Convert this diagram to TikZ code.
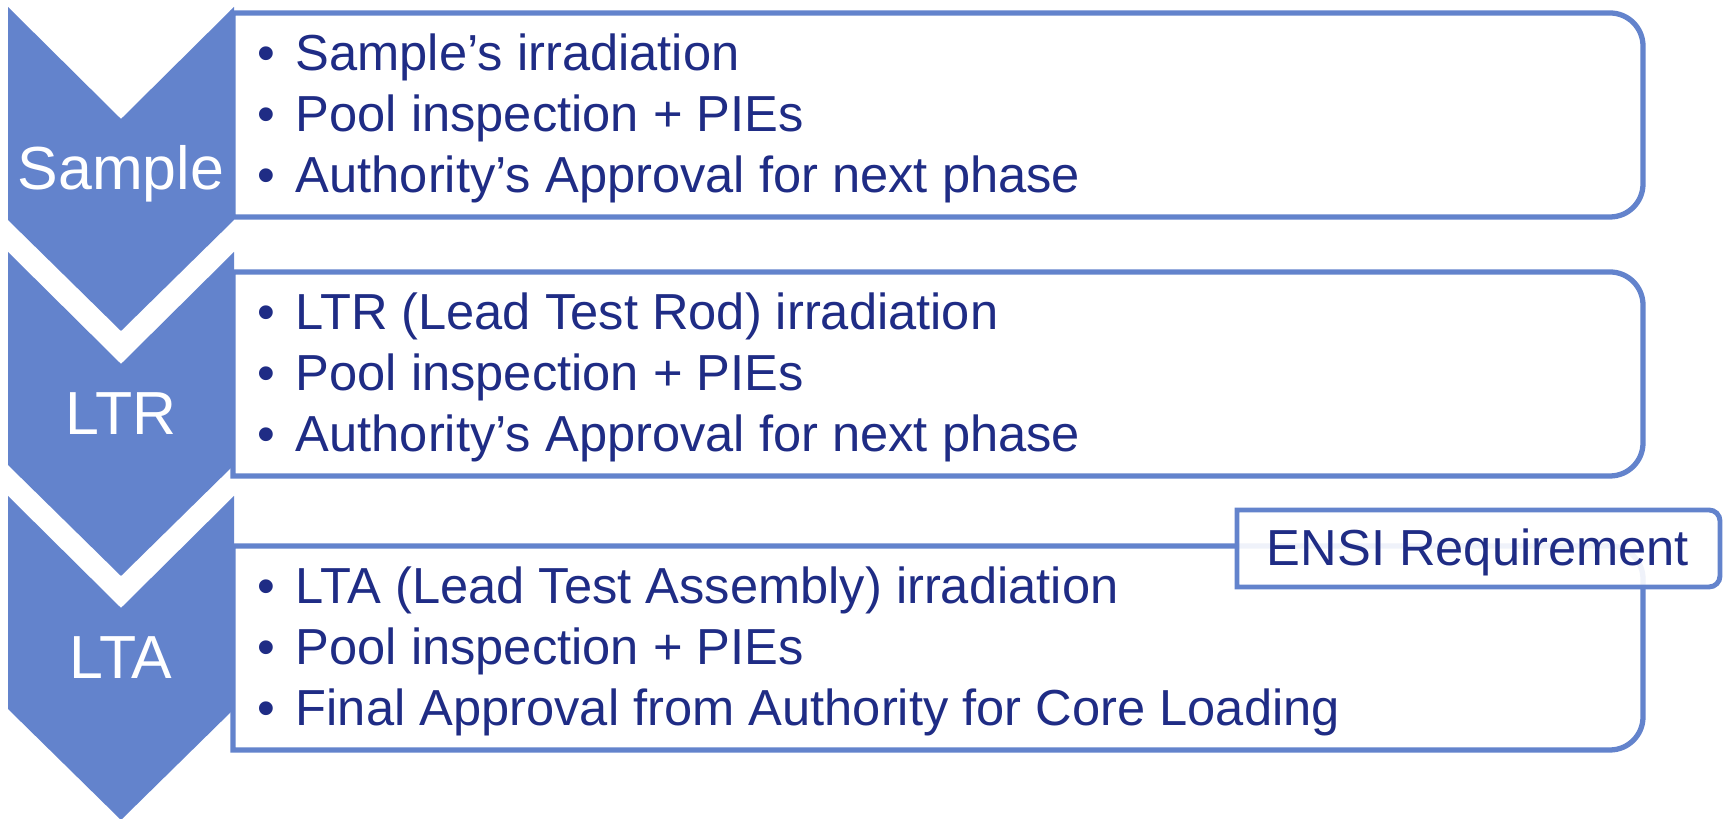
\documentclass[tikz,border=0pt]{standalone}
\usepackage{fontspec}
\setmainfont{Liberation Sans}
\usetikzlibrary{calc}

\definecolor{chevblue}{RGB}{99,131,204}
\definecolor{inknavy}{RGB}{31,44,133}

\tikzset{
  chevfill/.style={fill=chevblue},
  phasebox/.style={draw=chevblue, line width=1.5pt, fill=white},
  phaselabel/.style={text=white, font=\fontsize{17.3}{20}\selectfont, anchor=base, inner sep=0pt},
  phasetext/.style={text=inknavy, font=\fontsize{14.4}{17.45}\selectfont, align=left, anchor=base west, inner sep=0pt},
  ensibox/.style={draw=chevblue, line width=1.4pt, fill=white, fill opacity=0.9}
}
\newcommand{\bul}{\makebox[0.38cm][l]{•}}

\begin{document}
\begin{tikzpicture}[x=0.01cm,y=0.01cm]
  \useasboundingbox (0,0) rectangle (1723,819);
  %% one chevron + one box per phase: chevron top / box top / name / label / three lines
  \foreach \ct/\bt/\nm/\lab/\la/\lb/\lc in {
    812/806/sample/Sample/Sample’s irradiation/Pool inspection + PIEs/Authority’s Approval for next phase,
    567/547/ltr/LTR/LTR (Lead Test Rod) irradiation/Pool inspection + PIEs/Authority’s Approval for next phase,
    323/273/lta/LTA/LTA (Lead Test Assembly) irradiation/Pool inspection + PIEs/Final Approval from Authority for Core Loading}{
    \fill[chevfill] (8,\ct) -- (121,\ct-112) -- (234,\ct) -- (234,\ct-213) -- (121,\ct-324) -- (8,\ct-213) -- cycle;
    \node[phaselabel] (\nm) at (121,\ct-183) {\lab};
    \draw[phasebox] (233,\bt) -- (1610,\bt) arc (90:0:33) -- (1643,\bt-171) arc (0:-90:33) -- (233,\bt-204) -- cycle; %% only the right corners are round
    \node[phasetext] (\nm-txt) at (257,\bt-180) {\bul\la\\\bul\lb\\\bul\lc}; %% base = last line
  }
  %% requirement tag on the last box
  \draw[ensibox] (1237,309) -- (1709,309) arc (90:0:11) -- (1720,243) arc (0:-90:11) -- (1237,232) -- cycle;
  \node[phasetext, anchor=base] (ensi) at (1478,253) {ENSI Requirement};
\end{tikzpicture}
\end{document}
